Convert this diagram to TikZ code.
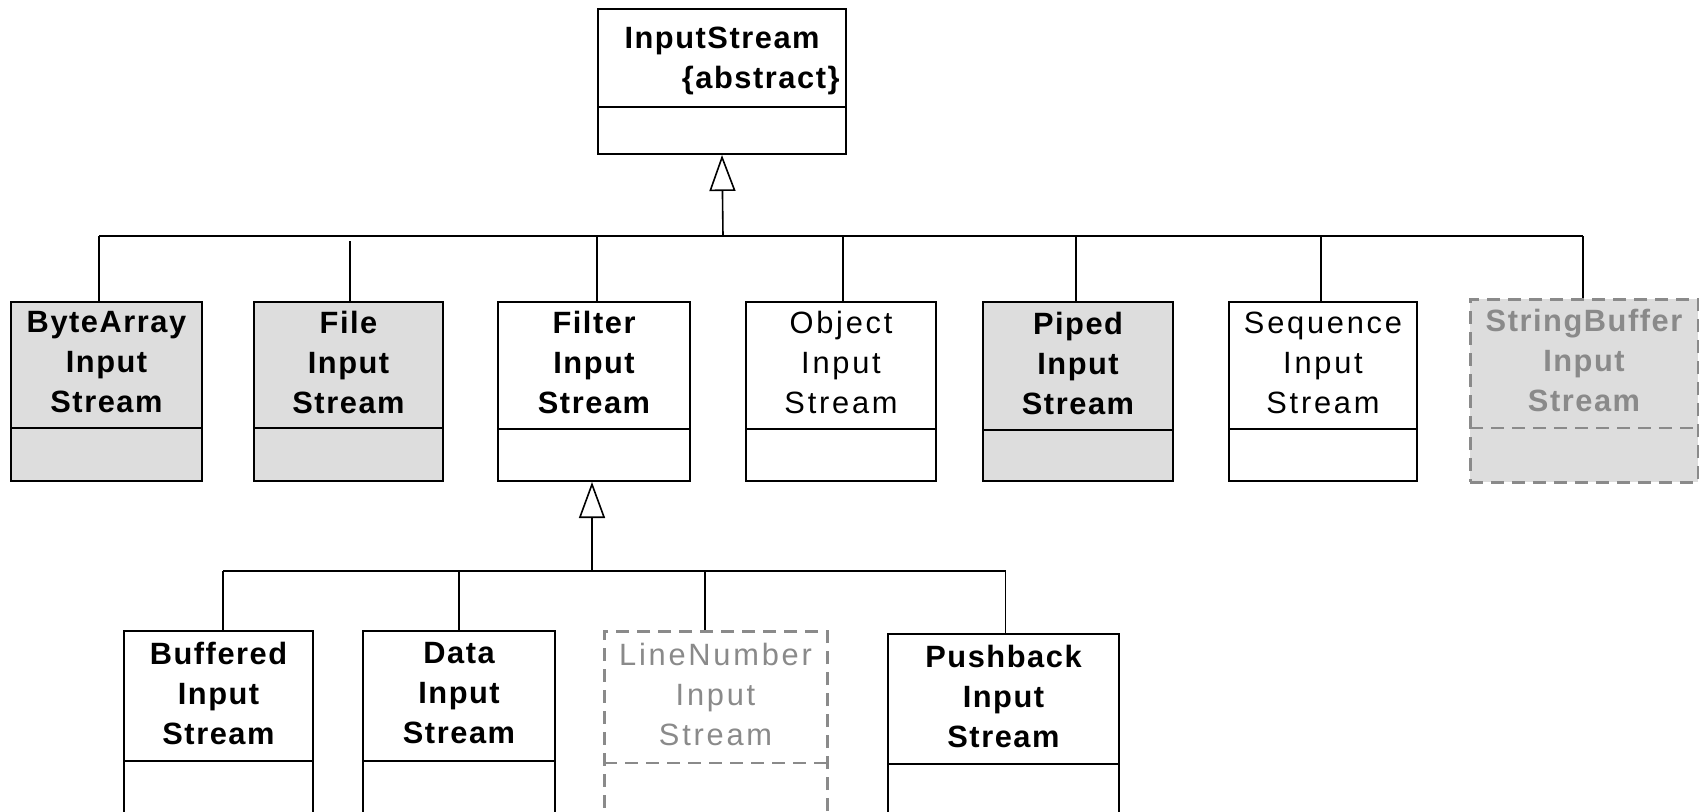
\documentclass[tikz,border=0pt]{standalone}
\usepackage{fontspec}
\setmainfont{Liberation Sans}
\newfontfamily\heavyfont{Liberation Sans}[LetterSpace=5]
\newfontfamily\lightfont{Liberation Sans}[LetterSpace=9]
\usetikzlibrary{arrows.meta,fit}

\definecolor{boxgray}{RGB}{221,221,221}
\definecolor{ghost}{RGB}{138,138,138}

\tikzset{
  heavy text/.style={font=\heavyfont\bfseries\fontsize{15.4pt}{20pt}\selectfont},
  light text/.style={font=\lightfont\fontsize{15.4pt}{20pt}\selectfont},
  % class kinds: box outline, compartment rule, name label
  plain box/.style={draw=black, line width=1pt, fill=white, inner sep=0pt},
  plain rule/.style={draw=black, line width=1pt},
  plain label/.style={heavy text, text=black},
  thin box/.style={plain box},
  thin rule/.style={plain rule},
  thin label/.style={light text, text=black},
  shaded box/.style={plain box, fill=boxgray},
  shaded rule/.style={plain rule},
  shaded label/.style={heavy text, text=black},
  ghostshaded box/.style={draw=ghost, line width=1.5pt, dash pattern=on 6.5pt off 4pt, fill=boxgray, inner sep=0pt},
  ghostshaded rule/.style={draw=ghost, line width=1pt, dash pattern=on 6.5pt off 4pt},
  ghostshaded label/.style={heavy text, text=ghost},
  ghostlight box/.style={ghostshaded box, fill=white},
  ghostlight rule/.style={ghostshaded rule},
  ghostlight label/.style={light text, text=ghost},
  link/.style={draw=black, line width=0.8pt},
  inherit/.style={link, -{Triangle[open, length=18pt, width=13pt, line width=0.8pt]}},
}

% \umlclass{name}{left}{top}{right}{rule y}{bottom}{kind}{label}
\newcommand\umlclass[8]{%
  \node[#7 box, fit={(#2,#3) (#4,#6)}] (#1) {};
  \path[#7 rule] (#2,#5) -- (#4,#5);
  \node[#7 label, align=center, inner sep=0pt] (#1-name) at ({(#2+#4)/2},{(#3+#5)/2-3}) {#8};
}

\begin{document}
\begin{tikzpicture}[x=0.5pt, y=-0.5pt]
  \useasboundingbox (0,0) rectangle (1699,811);
  \fill[white] (0,0) rectangle (1699,811);
  \clip (0,0) rectangle (1699,811);

  % root class
  \node[plain box, fit={(598,9) (846,154)}] (input) {};
  \path[plain rule] (598,107) -- (846,107);
  \node[plain label, align=right, inner sep=0pt, anchor=east] (input-name) at (840,60.5)
    {InputStream\hspace*{10pt}\\\{abstract\}};

  % direct subclasses
  \umlclass{bytearray}{11}{302}{202}{428}{481}{shaded}{ByteArray\\Input\\Stream}
  \umlclass{file}{254}{302}{443}{428}{481}{shaded}{File\\Input\\Stream}
  \umlclass{filter}{498}{302}{690}{429}{481}{plain}{Filter\\Input\\Stream}
  \umlclass{object}{746}{302}{936}{429}{481}{thin}{Object\\Input\\Stream}
  \umlclass{piped}{983}{302}{1173}{430}{481}{shaded}{Piped\\Input\\Stream}
  \umlclass{sequence}{1229}{302}{1417}{429}{481}{thin}{Sequence\\Input\\Stream}
  \umlclass{stringbuffer}{1470}{299}{1698}{428}{482}{ghostshaded}{StringBuffer\\Input\\Stream}

  % filter subclasses
  \umlclass{buffered}{124}{631}{313}{761}{840}{plain}{Buffered\\Input\\Stream}
  \umlclass{data}{363}{631}{555}{761}{840}{plain}{Data\\Input\\Stream}
  \umlclass{linenumber}{604}{631}{827}{763}{840}{ghostlight}{LineNumber\\Input\\Stream}
  \umlclass{pushback}{888}{634}{1119}{764}{840}{plain}{Pushback\\Input\\Stream}

  % generalization to InputStream
  \coordinate (topjoin) at (723,236);
  \draw[inherit] (topjoin) -- (input.south);
  \draw[link] ([xshift=-3.75pt]bytearray.north |- topjoin) -- ([xshift=-0.5pt]stringbuffer.north |- topjoin);
  \draw[link] ([xshift=-3.75pt]bytearray.north) -- ([xshift=-3.75pt]bytearray.north |- topjoin);
  \draw[link] ([xshift=0.75pt]file.north) -- ([xshift=0.75pt,yshift=-2.5pt]file.north |- topjoin);
  \draw[link] ([xshift=1.5pt]filter.north) -- ([xshift=1.5pt]filter.north |- topjoin);
  \draw[link] ([xshift=1pt]object.north) -- ([xshift=1pt]object.north |- topjoin);
  \draw[link] ([xshift=-1pt]piped.north) -- ([xshift=-1pt]piped.north |- topjoin);
  \draw[link] ([xshift=-1pt]sequence.north) -- ([xshift=-1pt]sequence.north |- topjoin);
  \draw[link] ([xshift=-0.5pt]stringbuffer.north) -- ([xshift=-0.5pt]stringbuffer.north |- topjoin);

  % generalization to FilterInputStream
  \coordinate (lowjoin) at (592,571);
  \draw[inherit] (lowjoin) -- (lowjoin |- filter.south);
  \draw[link] ([xshift=2.25pt]buffered.north |- lowjoin) -- ([xshift=1pt]pushback.north |- lowjoin);
  \draw[link] ([xshift=2.25pt]buffered.north) -- ([xshift=2.25pt]buffered.north |- lowjoin);
  \draw[link] (data.north) -- (data.north |- lowjoin);
  \draw[link] ([xshift=-5.25pt]linenumber.north) -- ([xshift=-5.25pt]linenumber.north |- lowjoin);
  \draw[link] ([xshift=1pt]pushback.north) -- ([xshift=1pt]pushback.north |- lowjoin);
\end{tikzpicture}
\end{document}
